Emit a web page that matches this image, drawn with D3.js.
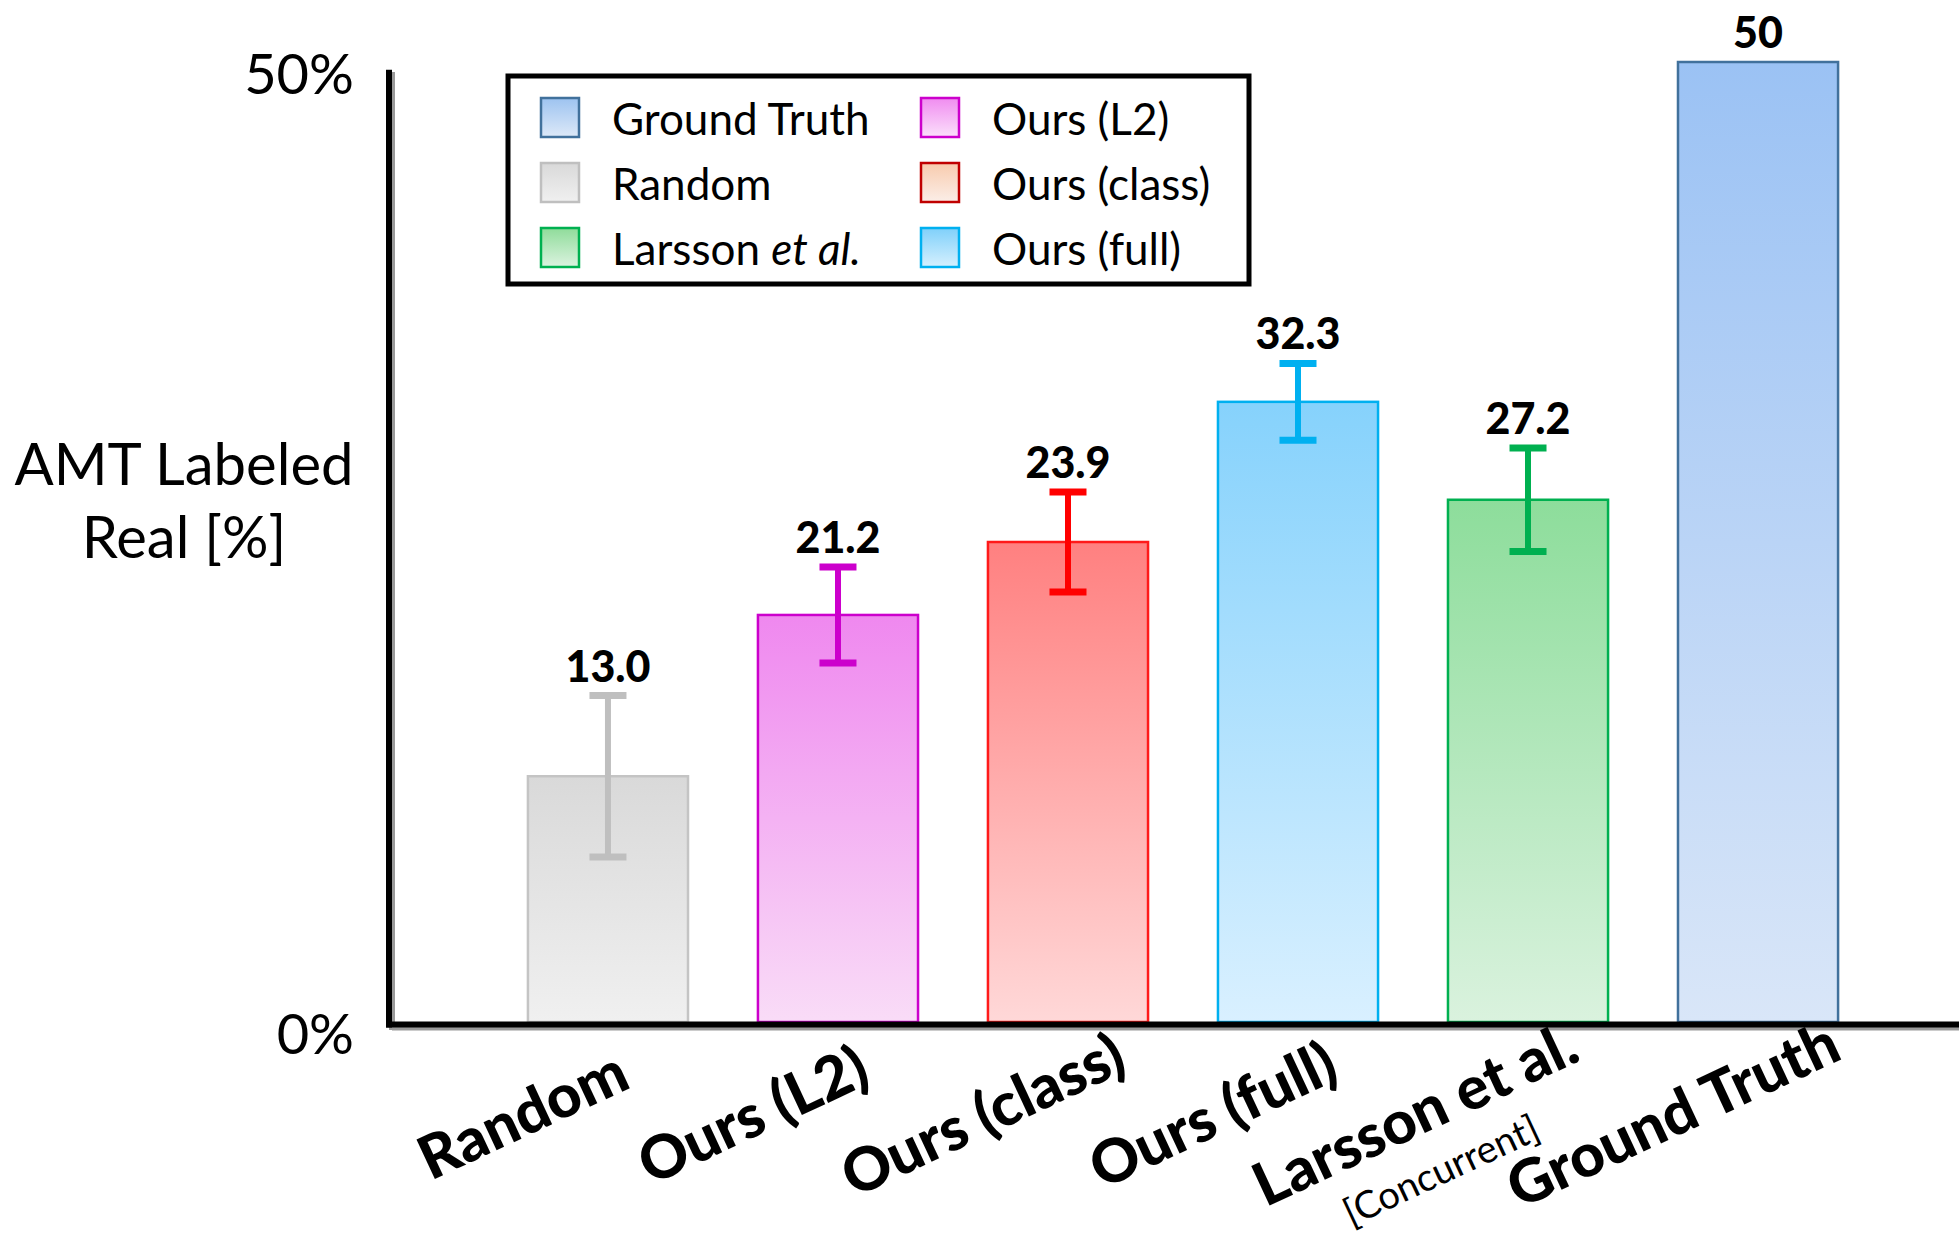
<!DOCTYPE html>
<html>
<head>
<meta charset="utf-8">
<script src="https://cdn.jsdelivr.net/npm/d3@7"></script>
<style>
  body { margin: 0; background: #fff; }
  text { font-family: Lato, "Open Sans", sans-serif; }
</style>
</head>
<body>
<div id="chart"></div>
<script>
// chart data
const categories = ["Random", "Ours (L2)", "Ours (class)", "Ours (full)", "Larsson et al.", "Ground Truth"];
const subLabels = ["", "", "", "", "[Concurrent]", ""];
const values = [12.8, 21.2, 25.0, 32.3, 27.2, 50];       // bar heights as drawn
const valueLabels = ["13.0", "21.2", "23.9", "32.3", "27.2", "50"];
const errors = [4.2, 2.5, 2.6, 2.0, 2.7, 0];
const yTicks = [0, 50];

const barTop = ["#d9d9d9", "#ef88ef", "#ff8080", "#86d2fc", "#8ddd9b", "#9bc2f4"];
const barBottom = ["#f0f0f0", "#f9dcf7", "#ffd8d8", "#d9f0ff", "#daf2de", "#d9e6f8"];
const barStroke = ["#c4c4c4", "#cc00cc", "#ff1a1a", "#00b0f0", "#00b050", "#41719c"];
const errColor = ["#bfbfbf", "#cc00cc", "#ff0000", "#00b0f0", "#00b050", "none"];

const legendNames = ["Ground Truth", "Random", "Larsson", "Ours (L2)", "Ours (class)", "Ours (full)"];
const legendTop = ["#9dc3f0", "#d9d9d9", "#8fdc9a", "#f08cf0", "#f8cbad", "#7fd0fa"];
const legendBottom = ["#dde9f8", "#f0f0f0", "#dcf3e0", "#fbe0fb", "#fbeee8", "#d6f0fe"];
const legendStroke = ["#41719c", "#bfbfbf", "#00b050", "#cc00cc", "#c00000", "#00b0f0"];

function init() {
    const width = 1959, height = 1234;

    const svg = d3.select("#chart").append("svg")
        .attr("width", width)
        .attr("height", height);

    const x = d3.scaleBand()
        .domain(categories)
        .range([389, 1977])
        .paddingInner(0.304)
        .paddingOuter(0.604);

    const y = d3.scaleLinear()
        .domain([0, 50])
        .range([1022, 62]);

    const defs = svg.append("defs");
    function grad(id, c1, c2) {
        const g = defs.append("linearGradient").attr("id", id)
            .attr("x1", 0).attr("y1", 0).attr("x2", 0).attr("y2", 1);
        g.append("stop").attr("offset", "0%").attr("stop-color", c1);
        g.append("stop").attr("offset", "100%").attr("stop-color", c2);
    }
    categories.forEach((c, i) => grad("bar" + i, barTop[i], barBottom[i]));
    legendNames.forEach((c, i) => grad("leg" + i, legendTop[i], legendBottom[i]));

    // bars
    svg.selectAll(".bar")
        .data(categories)
        .enter().append("rect")
        .attr("class", "bar")
        .attr("x", d => x(d))
        .attr("y", (d, i) => y(values[i]))
        .attr("width", x.bandwidth())
        .attr("height", (d, i) => y(0) - y(values[i]))
        .attr("fill", (d, i) => `url(#bar${i})`)
        .attr("stroke", (d, i) => barStroke[i])
        .attr("stroke-width", 2.5);

    // error bars
    const capW = 37;
    categories.forEach((c, i) => {
        if (!errors[i]) return;
        const cx = x(c) + x.bandwidth() / 2;
        const g = svg.append("g").attr("stroke", errColor[i]);
        g.append("line")
            .attr("x1", cx).attr("x2", cx)
            .attr("y1", y(values[i] + errors[i])).attr("y2", y(values[i] - errors[i]))
            .attr("stroke-width", 6);
        [values[i] + errors[i], values[i] - errors[i]].forEach(v => {
            g.append("line")
                .attr("x1", cx - capW / 2).attr("x2", cx + capW / 2)
                .attr("y1", y(v)).attr("y2", y(v))
                .attr("stroke-width", 7);
        });
    });

    // value labels
    svg.selectAll(".vlabel")
        .data(categories)
        .enter().append("text")
        .attr("class", "vlabel")
        .attr("x", d => x(d) + x.bandwidth() / 2)
        .attr("y", (d, i) => y(values[i] + errors[i]) - 14)
        .attr("text-anchor", "middle")
        .attr("font-weight", 900)
        .attr("font-size", 43)
        .text((d, i) => valueLabels[i]);

    // axes
    const shadow = svg.append("g").attr("stroke", "#9a9a9a").attr("stroke-width", 6);
    shadow.append("line").attr("x1", 392).attr("x2", 392).attr("y1", 72).attr("y2", y(0) + 8);
    shadow.append("line").attr("x1", 392).attr("x2", width).attr("y1", y(0) + 5.5).attr("y2", y(0) + 5.5);

    svg.append("line")
        .attr("x1", 389).attr("x2", 389)
        .attr("y1", y(49.6)).attr("y2", y(0) + 5.5)
        .attr("stroke", "#000").attr("stroke-width", 6);
    svg.append("line")
        .attr("x1", 386).attr("x2", width)
        .attr("y1", y(0) + 2.5).attr("y2", y(0) + 2.5)
        .attr("stroke", "#000").attr("stroke-width", 6);

    const yAxis = svg.append("g")
        .attr("transform", "translate(389,14)")
        .call(d3.axisLeft(y).tickValues(yTicks).tickSize(0).tickPadding(35).tickFormat(d => d + "%"));
    yAxis.select(".domain").remove();
    yAxis.selectAll("text")
        .attr("font-family", "Lato, 'Open Sans', sans-serif")
        .attr("font-size", 56)
        .attr("fill", "#000");

    // y title
    const yTitle = svg.append("text")
        .attr("text-anchor", "middle")
        .attr("font-size", 58);
    yTitle.append("tspan").attr("x", 184).attr("y", 485).text("AMT Labeled");
    yTitle.append("tspan").attr("x", 184).attr("y", 558).text("Real [%]");

    // x labels, rotated
    categories.forEach((c, i) => {
        const g = svg.append("g")
            .attr("transform", `translate(${x(c) + x.bandwidth() / 2 - 86},1113) rotate(-25)`);
        const shift = subLabels[i] ? [-25, -12] : [0, 0];
        g.append("text")
            .attr("x", shift[0]).attr("y", shift[1])
            .attr("text-anchor", "middle")
            .attr("dominant-baseline", "central")
            .attr("font-weight", 900)
            .attr("font-size", 60)
            .text(c);
        if (subLabels[i]) {
            g.append("text")
                .attr("x", shift[0]).attr("y", shift[1] + 62)
                .attr("text-anchor", "middle")
                .attr("dominant-baseline", "central")
                .attr("font-size", 38)
                .text(subLabels[i]);
        }
    });

    // legend
    const legend = svg.append("g");
    legend.append("rect")
        .attr("x", 508).attr("y", 76)
        .attr("width", 741).attr("height", 208)
        .attr("fill", "#fff")
        .attr("stroke", "#000").attr("stroke-width", 5);

    legendNames.forEach((name, i) => {
        const col = Math.floor(i / 3), row = i % 3;
        const lx = 541 + col * 380, ly = 98 + row * 65;
        legend.append("rect")
            .attr("x", lx).attr("y", ly)
            .attr("width", 38).attr("height", 39)
            .attr("fill", `url(#leg${i})`)
            .attr("stroke", legendStroke[i]).attr("stroke-width", 2.5);
        const t = legend.append("text")
            .attr("x", lx + 71).attr("y", ly + 20)
            .attr("dominant-baseline", "central")
            .attr("font-size", 44);
        if (name === "Larsson") {
            t.append("tspan").text("Larsson ");
            t.append("tspan").attr("font-style", "italic").text("et al.");
        } else {
            t.text(name);
        }
    });
}
window.onload = init;
</script>
</body>
</html>
